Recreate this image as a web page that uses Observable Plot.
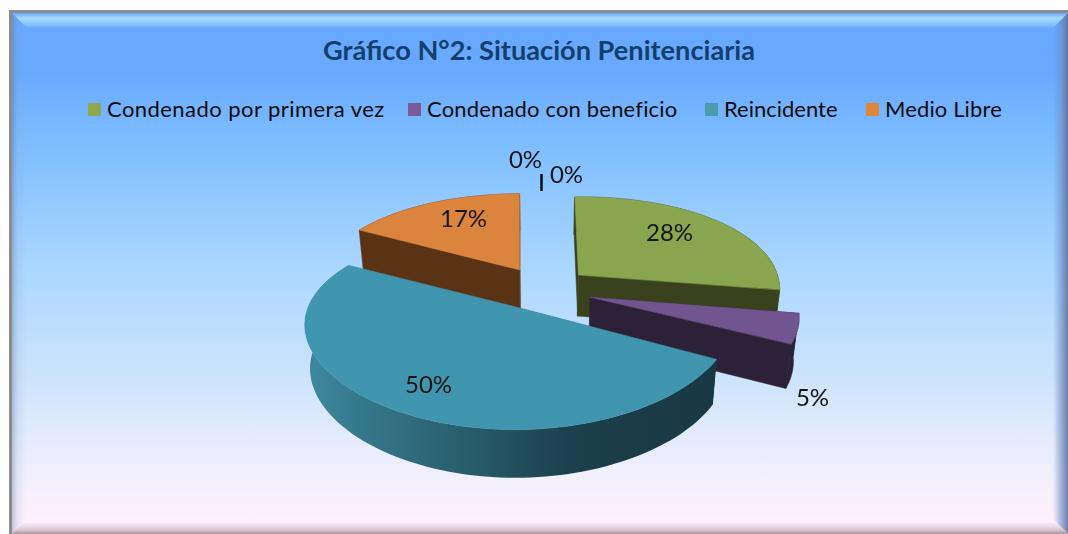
<!DOCTYPE html>
<html lang="es"><head><meta charset="utf-8">
<script src="https://cdn.jsdelivr.net/npm/d3@7"></script>
<script src="https://cdn.jsdelivr.net/npm/@observablehq/plot@0.6"></script>
<style>
html,body{margin:0;padding:0;background:#fff;width:1068px;height:534px;overflow:hidden;font-family:Lato,sans-serif}
#frame{position:absolute;left:9px;top:10px;width:1059px;height:524px;background:#8c8c8c;filter:blur(.45px)}
#panel{position:absolute;left:3px;top:3px;right:0;bottom:0;
 background:linear-gradient(180deg,#66a8ff 0,#69aaff 60px,#7dbdff 130px,#a9d6ff 250px,#cfe4fc 370px,#f3f0fd 465px,#fff0fd 510px)}
.bevel{position:absolute;inset:0}
#bt{background:linear-gradient(180deg,#7fc0ff00 0,#a6dcff 5px,#8cc8ff 11px,#6aaaff 15px);clip-path:polygon(0 0,100% 0,calc(100% - 15px) 15px,15px 15px)}
#br{background:linear-gradient(270deg,#5f6f97e0 0,#6f8fc8a0 7px,#ffffff00 15px);clip-path:polygon(100% 0,100% 100%,calc(100% - 15px) calc(100% - 15px),calc(100% - 15px) 15px)}
#bb{background:linear-gradient(0deg,#a8949f 0,#dac6d4 4px,#fff0fd00 12px);clip-path:polygon(0 100%,100% 100%,calc(100% - 15px) calc(100% - 15px),15px calc(100% - 15px))}
#bl{background:linear-gradient(90deg,#5b6f9a60 0,#8aa0c830 5px,#ffffff00 14px);clip-path:polygon(0 0,15px 15px,15px calc(100% - 15px),0 100%)}
#title{position:absolute;left:5px;width:1068px;top:34px;text-align:center;font-size:27.2px;font-weight:700;color:#133f6d;line-height:32px;white-space:nowrap}
.leg{position:absolute;top:95px;font-size:22px;line-height:28px;color:#0a0a0a;white-space:nowrap}
.sw{position:absolute;top:103px;width:13px;height:13px}
#chart{position:absolute;left:0;top:0}
#chart svg{background:transparent}
</style></head><body>
<div id="frame"><div id="panel"><div class="bevel" id="bt"></div><div class="bevel" id="br"></div><div class="bevel" id="bb"></div><div class="bevel" id="bl"></div></div></div>
<div id="chart"></div>
<div id="title"></div>
<div id="legend"></div>
<script>
const titleText = "Gráfico N°2: Situación Penitenciaria";
const categories = ["Condenado por primera vez", "Condenado con beneficio", "Reincidente", "Medio Libre"];
const values = [28, 5, 50, 17, 0, 0];
const topColors = ["#89a54e", "#71558f", "#4096ae", "#db843d"];
const wallColors = ["#3a411d", "#2c2137", "url(#tealWall)", "#5a3315"];
const legendColors = ["#8fa84f", "#7a5a98", "#4a9caf", "#dd8539"];

// Layout of the perspective drawing (not data)
const cam = {x0: 541.3, y0: 288.7, A: 204.5, B: 88.9, px: 0.15, py: 0.2, D: 42, shrink: 0.978};
const placement = [
  {u: 0.184, v: 0.1686, ru: 0.998, rv: 1.14, k: 0.0096, m: 0.042},
  {u: 0.2349, v: -0.0885, ru: 0.981, rv: 0.984, k: -0.052, m: 0.0163},
  {u: -0.109, v: -0.2, ru: 1, rv: 1, k: 0, m: 0},
  {u: -0.1127, v: 0.2275, ru: 0.995, rv: 1.139, k: -0.0187, m: 0.0103}
];
const labelPos = [[669, 233], [812, 398], [428, 385], [463, 219], [525, 160], [566, 175]];
const legendPos = [[88, 107, 0.44], [408, 427, 0.17], [705, 724, 0], [866, 885, 0.13]];
const zeroTick = {x: 541, y1: 174, y2: 191};

function project(u, v, low) {
  const wx = 1 + cam.px * v, wy = 1 + cam.py * v;
  let x = cam.x0 + cam.A * u / wx, y = cam.y0 - cam.B * v / wy;
  if (low) { x = cam.x0 + (x - cam.x0) * cam.shrink; y += cam.D / Math.sqrt(wy); }
  return {x, y};
}
const pct = 2 * Math.PI / d3.sum(values);
let cum = 0;
const pieces = [];
values.slice(0, 4).forEach((val, i) => {
  const a0 = cum * pct, a1 = (cum + val) * pct; cum += val;
  const s = placement[i];
  const n = Math.max(2, Math.ceil(val * 2));
  const arc = (low) => d3.range(n + 1).map(k => {
    const a = a0 + (a1 - a0) * k / n;
    return project(s.u + s.ru * Math.sin(a) + s.k * Math.cos(a), s.v + s.rv * Math.cos(a) + s.m * Math.sin(a), low);
  });
  const apex = project(s.u, s.v, false), apexLow = project(s.u, s.v, true);
  const upper = arc(false), lower = arc(true);
  pieces.push({
    i,
    walls: [
      [apex, upper[0], lower[0], apexLow],
      [apex, upper[n], lower[n], apexLow],
      [...upper, ...lower.slice().reverse()]
    ],
    top: [apex, ...upper]
  });
});
const order = [3, 0, 1, 2];
const poly = (pts, color) => Plot.line(pts, {
  x: "x", y: "y", fill: color, curve: "linear-closed",
  stroke: color.startsWith("url") ? "none" : color, strokeWidth: 0.6
});
const marks = [];
marks.push(() => {
  const ns = "http://www.w3.org/2000/svg";
  const defs = document.createElementNS(ns, "defs");
  defs.innerHTML = `<linearGradient id="tealWall" x1="0" x2="1" y1="0" y2="0">
    <stop offset="0" stop-color="#3f8aa0"/><stop offset="0.12" stop-color="#367a8e"/>
    <stop offset="0.4" stop-color="#285c6c"/><stop offset="0.65" stop-color="#1b3f4c"/>
    <stop offset="1" stop-color="#183843"/></linearGradient>`;
  return defs;
});
for (const idx of order) {
  const pc = pieces[idx];
  for (const w of pc.walls) marks.push(poly(w, wallColors[idx]));
  marks.push(poly(pc.top, topColors[idx]));
}
marks.push(Plot.ruleX([zeroTick.x], {y1: zeroTick.y1, y2: zeroTick.y2, stroke: "#000", strokeWidth: 2.4}));
const labelRows = values.map((v, i) => ({t: `${v}%`, x: labelPos[i][0], y: labelPos[i][1]}));
marks.push(Plot.text(labelRows, {x: "x", y: "y", text: "t", fontSize: 24, fill: "#151515", fontFamily: "Lato"}));

const chart = Plot.plot({
  width: 1068, height: 534, margin: 0,
  x: {domain: [0, 1068], range: [0, 1068], axis: null},
  y: {domain: [0, 534], range: [0, 534], axis: null},
  marks
});
chart.style.filter = "blur(.35px)";
document.getElementById("chart").appendChild(chart);
document.getElementById("title").textContent = titleText;
const legend = document.getElementById("legend");
categories.forEach((c, i) => {
  const sw = document.createElement("div");
  sw.className = "sw"; sw.style.left = legendPos[i][0] + "px"; sw.style.background = legendColors[i];
  const t = document.createElement("div");
  t.className = "leg"; t.style.left = legendPos[i][1] + "px"; t.style.letterSpacing = legendPos[i][2] + "px"; t.textContent = c;
  legend.append(sw, t);
});
</script></body></html>
